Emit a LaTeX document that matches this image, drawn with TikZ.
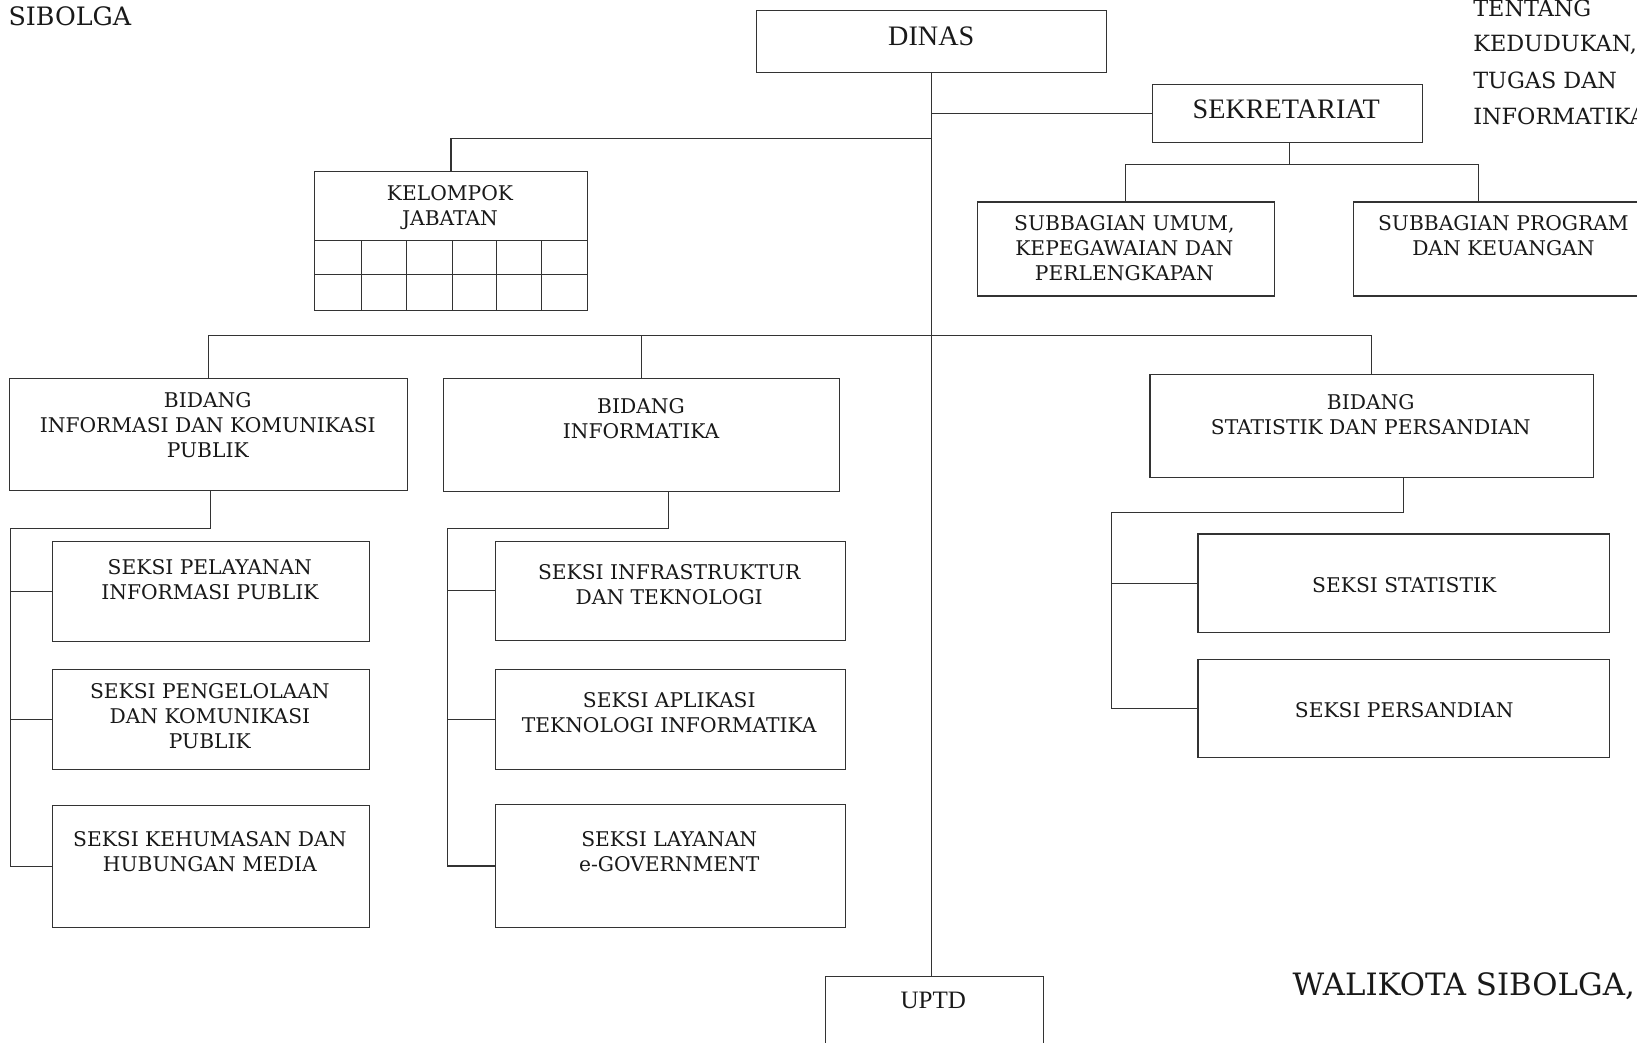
\documentclass[tikz,border=0pt]{standalone}
\usepackage{fontspec}
\setmainfont{Liberation Serif}
\newfontfamily\bkfont{DejaVu Serif}
\newfontfamily\tmfont{Liberation Serif}
\begin{document}
\begin{tikzpicture}[x=1pt,y=-1pt,
  box/.style={draw=black!80, line width=1pt, rectangle, inner sep=0pt, anchor=north west},
  conn/.style={draw=black!80, line width=1pt},
  bt/.style={font=\bkfont\fontsize{19.4}{24}\selectfont, align=center, inner sep=0pt, text=black!90},
  tt/.style={font=\tmfont\fontsize{27}{34}\selectfont, inner sep=0pt, text=black!90},
  hd/.style={font=\bkfont\fontsize{21.4}{34}\selectfont, inner sep=0pt, text=black!90, anchor=west},
]
\useasboundingbox (0,0) rectangle (1568,999);
\fill[white] (0,0) rectangle (1568,999);
\clip (0,0) rectangle (1568,999);

% ---- boxes ----
\node[box, minimum width=335, minimum height=59] (dinas) at (724,10) {};
\node[box, minimum width=259, minimum height=56] (sek) at (1103,80) {};
\node[box, minimum width=261, minimum height=133] (kel) at (301,164) {};
\node[box, minimum width=284, minimum height=90] (umum) at (936,193) {};
\node[box, minimum width=300, minimum height=90] (prog) at (1296,193) {};
\node[box, minimum width=381, minimum height=107] (ikp) at (9,362) {};
\node[box, minimum width=380, minimum height=108] (inf) at (424,362) {};
\node[box, minimum width=425, minimum height=99] (stat) at (1101,358) {};
\node[box, minimum width=303, minimum height=96] (s1) at (50,518) {};
\node[box, minimum width=303, minimum height=96] (s2) at (50,641) {};
\node[box, minimum width=303, minimum height=117] (s3) at (50,771) {};
\node[box, minimum width=335, minimum height=95] (t1) at (474,518) {};
\node[box, minimum width=335, minimum height=96] (t2) at (474,641) {};
\node[box, minimum width=335, minimum height=118] (t3) at (474,770) {};
\node[box, minimum width=394, minimum height=94] (u1) at (1147,511) {};
\node[box, minimum width=394, minimum height=94] (u2) at (1147,631) {};
\node[box, minimum width=209, minimum height=100] (uptd) at (790,935) {};

% kelompok jabatan grid
\draw[conn] (301,230) -- (562,230);
\draw[conn] (301,263) -- (562,263);
\foreach \gx in {346,389,433,476,519} \draw[conn] (\gx,230) -- (\gx,297);

% ---- texts ----
\node[tt] (tdinas) at (892,35) {DINAS};
\node[tt] (tsek) at (1232,105) {SEKRETARIAT};
\node[hd, font=\bkfont\fontsize{24.3}{30}\selectfont] (tsib) at (8,16) {SIBOLGA};
\node[hd] (ttent) at (1411,8) {TENTANG};
\node[hd] (tked) at (1411,43) {KEDUDUKAN,};
\node[hd] (ttug) at (1411,77) {TUGAS DAN};
\node[hd] (tinfo) at (1411,111) {INFORMATIKA};
\node[hd, font=\bkfont\fontsize{29.5}{36}\selectfont] (twali) at (1238,945) {WALIKOTA SIBOLGA,};
\node[tt, font=\tmfont\fontsize{24}{30}\selectfont] (tuptd) at (894,958) {UPTD};

\node[bt] (tkel) at (431,199) {KELOMPOK\\JABATAN};
\node[bt] (tumum) at (1077,238) {SUBBAGIAN UMUM,\\KEPEGAWAIAN DAN\\PERLENGKAPAN};
\node[bt] (tprog) at (1440,226) {SUBBAGIAN PROGRAM\\DAN KEUANGAN};
\node[bt] (tikp) at (199,407) {BIDANG\\INFORMASI DAN KOMUNIKASI\\PUBLIK};
\node[bt] (tinf) at (614,401) {BIDANG\\INFORMATIKA};
\node[bt] (tstat) at (1313,397) {BIDANG\\STATISTIK DAN PERSANDIAN};
\node[bt] (ts1) at (201,555) {SEKSI PELAYANAN\\INFORMASI PUBLIK};
\node[bt] (ts2) at (201,686) {SEKSI PENGELOLAAN\\DAN KOMUNIKASI\\PUBLIK};
\node[bt] (ts3) at (201,816) {SEKSI KEHUMASAN DAN\\HUBUNGAN MEDIA};
\node[bt] (tt1) at (641,560) {SEKSI INFRASTRUKTUR\\DAN TEKNOLOGI};
\node[bt] (tt2) at (641,683) {SEKSI APLIKASI\\TEKNOLOGI INFORMATIKA};
\node[bt] (tt3) at (641,816) {SEKSI LAYANAN\\e-GOVERNMENT};
\node[bt] (tu1) at (1345,560) {SEKSI STATISTIK};
\node[bt] (tu2) at (1345,680) {SEKSI PERSANDIAN};

% ---- connectors ----
\coordinate (jk) at (892,133);
\coordinate (bus) at (892,321);
\draw[conn] (dinas.south) -- (dinas.south |- uptd.north);
\draw[conn] (dinas.south |- sek.west) -- (sek.west);
\draw[conn] (kel.north) |- (jk);
% sekretariat subtree
\coordinate (sk) at (1235,158);
\draw[conn] (sek.south -| sk) -- (sk);
\draw[conn] (umum.north) |- (sk) -| ([xshift=120pt]prog.north west);
% bidang bus
\draw[conn] (ikp.north) |- (bus) -| (stat.north);
\draw[conn] (inf.north) -- (inf.north |- bus);
% IKP subtree
\coordinate (ikpL) at (10,506);
\draw[conn] ([xshift=2pt]ikp.south) |- (ikpL) |- (s3.west);
\draw[conn] (s1.west) -- (s1.west -| ikpL);
\draw[conn] (s2.west) -- (s2.west -| ikpL);
% Informatika subtree
\coordinate (infL) at (429,506);
\draw[conn] ([xshift=26pt]inf.south) |- (infL) |- (t3.west);
\draw[conn] (t1.west) -- (t1.west -| infL);
\draw[conn] (t2.west) -- (t2.west -| infL);
% Statistik subtree
\coordinate (statL) at (1065,491);
\draw[conn] ([xshift=30.5pt]stat.south) |- (statL) |- (u2.west);
\draw[conn] (u1.west) -- (u1.west -| statL);
\end{tikzpicture}
\end{document}
